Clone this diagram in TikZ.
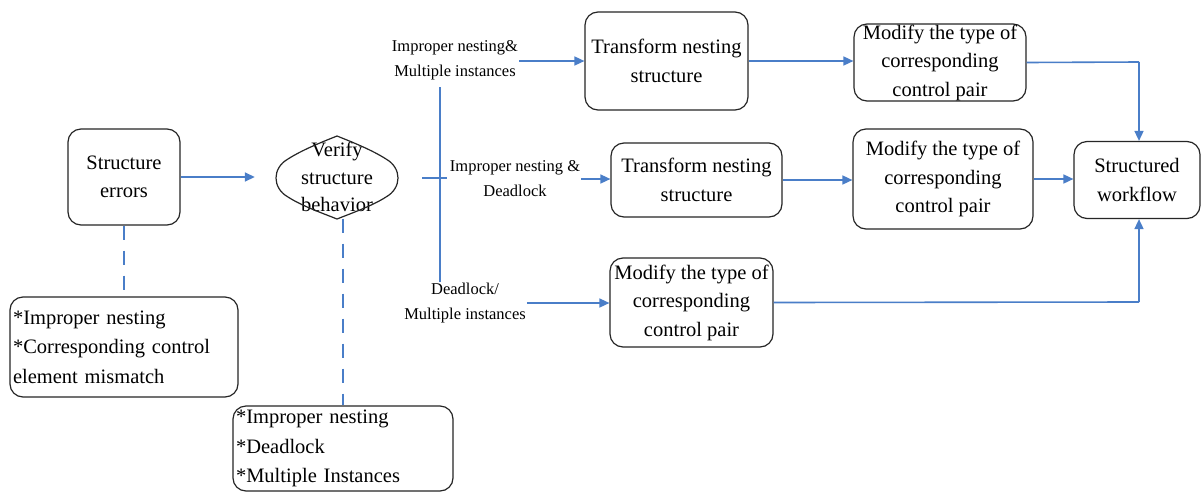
\documentclass[tikz,border=0pt]{standalone}
\usepackage{fontspec}
\setmainfont{Liberation Serif}
\usetikzlibrary{arrows.meta}
\definecolor{lblue}{RGB}{74,126,200}
\begin{document}
\begin{tikzpicture}[x=1pt,y=-1pt,
  box/.style={draw=black!85,line width=1.2pt,rounded corners=13pt,inner sep=0pt,align=center,font=\fontsize{20.5}{28.5}\selectfont},
  listbox/.style={draw=black!85,line width=1.2pt,rounded corners=13pt,inner sep=3pt,align=left,font=\fontsize{20.5}{29.5}\selectfont},
  lab/.style={inner sep=1pt,align=center,font=\fontsize{16.5}{25}\selectfont},
  flow/.style={draw=lblue,line width=1.6pt,-{Triangle[length=10pt,width=9pt]}},
  wire/.style={draw=lblue,line width=1.6pt},
  dashline/.style={draw=lblue,line width=1.6pt,dash pattern=on 14pt off 11pt}
]
\useasboundingbox (0,0) rectangle (1201,493);
\fill[white] (0,0) rectangle (1201,493);

% nodes
\node[box,minimum width=112pt,minimum height=96pt] (se) at (124,177) {Structure\\errors};
\node[inner sep=0pt,minimum width=122pt,minimum height=83pt,align=center,font=\fontsize{20.5}{27.5}\selectfont] (vf) at (337,177) {Verify\\structure\\behavior};
\draw[draw=black!85,line width=1.2pt]
  (337,136) .. controls (322,142) and (302,150) .. (288,159)
  .. controls (272,168) and (272,188) .. (288,197)
  .. controls (302,206) and (322,213) .. (337,219)
  .. controls (352,213) and (372,206) .. (386,197)
  .. controls (402,188) and (402,168) .. (386,159)
  .. controls (372,150) and (352,142) .. (337,136) -- cycle;

\node[listbox,text width=222pt,minimum height=100pt] (bl) at (124,347) {*Improper nesting\\{}*Corresponding control\\element mismatch};
\node[listbox,text width=214pt,minimum height=85pt] (bm) at (343,448.5) {*Improper nesting\\{}*Deadlock\\{}*Multiple Instances};

\node[box,minimum width=163pt,minimum height=98pt] (t1) at (666.5,61) {Transform nesting\\structure};
\node[box,minimum width=171pt,minimum height=74pt] (t2) at (696.5,180) {Transform nesting\\structure};
\node[box,minimum width=172pt,minimum height=77pt] (m1) at (940,62.5) {Modify the type of\\corresponding\\control pair};
\node[box,minimum width=180pt,minimum height=100pt] (m2) at (943,179) {Modify the type of\\corresponding\\control pair};
\node[box,minimum width=163pt,minimum height=89pt] (m3) at (691.5,302.5) {Modify the type of\\corresponding\\control pair};
\node[box,minimum width=126pt,minimum height=77pt] (sw) at (1137,180) {Structured\\workflow};

\node[lab] (l1) at (455,60.5) {Improper nesting\&\\Multiple instances};
\node[lab] (l2) at (515,179) {Improper nesting \&\\Deadlock};
\node[lab] (l3) at (465,303) {Deadlock/\\Multiple instances};

\coordinate (b1) at (422,178);
\coordinate (b2) at (447,178);
\coordinate (vt) at (440,87);
\coordinate (vb) at (440,282);
\coordinate (k1) at (1139,62);
\coordinate (k3) at (1139,302);

% connectors
\draw[flow,shorten >=21pt] (se.east) -- (se.east -| vf.west);
\draw[dashline] (se.south) -- (bl.north);
\draw[dashline] (vf.south -| bm.north) -- (bm.north);
\draw[wire] (b1) -- (b2);
\draw[wire] (vt) -- (vb);
\draw[flow] (l1.east |- t1.west) -- (t1.west);
\draw[flow] (l2.east) -- (l2.east -| t2.west);
\draw[flow] (l3.east) -- (l3.east -| m3.west);
\draw[flow] (t1.east) -- (t1.east -| m1.west);
\draw[flow] (t2.east) -- (t2.east -| m2.west);
\draw[flow] (m2.east) -- (m2.east -| sw.west);
\draw[wire] (m1.east) -- (k1);
\draw[flow] (k1) -- (k1 |- sw.north);
\draw[wire] (m3.east) -- (k3);
\draw[flow] (k3) -- (k3 |- sw.south);
\end{tikzpicture}
\end{document}
